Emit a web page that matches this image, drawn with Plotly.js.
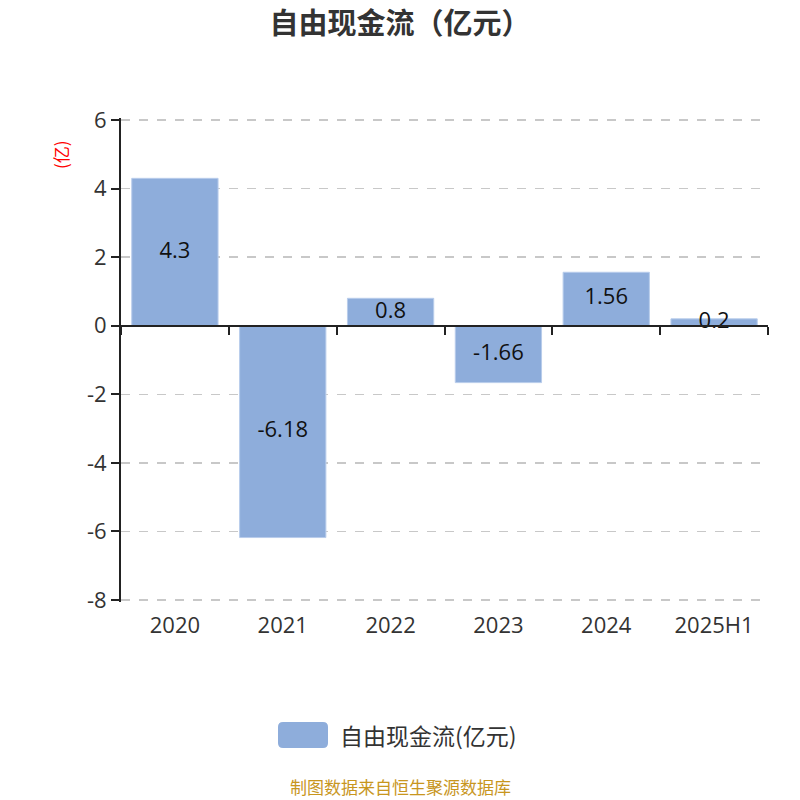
<!DOCTYPE html>
<html><head><meta charset="utf-8">
<script src="https://cdn.plot.ly/plotly-3.0.1.min.js"></script>
<style>html,body{margin:0;padding:0;background:#fff}#c{width:800px;height:800px}</style>
</head><body><div id="c"></div>
<script>
const categories = ['2020','2021','2022','2023','2024','2025H1'];
const values = [4.3, -6.18, 0.8, -1.66, 1.56, 0.2];
const labels = ['4.3','-6.18','0.8','-1.66','1.56','0.2'];
const seriesName = '自由现金流(亿元)';
const yTicks = [-8,-6,-4,-2,0,2,4,6];

const FONT = '"Open Sans", "Noto Sans CJK SC", sans-serif';
const CJK = '"Noto Sans CJK SC", "Open Sans", sans-serif';
const BAR = '#8eaddb';
const traces = [
  {type:'bar', x:categories, y:values, name:seriesName,
   marker:{color:BAR, line:{color:'#b8cceb', width:1}},
   textposition:'none', hoverinfo:'x+y', width:0.8, showlegend:false},
  {type:'scatter', mode:'text', x:categories, y:values.map(v=>v/2), text:labels,
   textfont:{size:22, color:'#111', family:FONT}, showlegend:false, hoverinfo:'skip', cliponaxis:false},
  {type:'scatter', mode:'markers', x:categories, y:values, xaxis:'x2', marker:{opacity:0},
   showlegend:false, hoverinfo:'skip'}
];
const Y0 = -8.06, Y1 = 6.06;
// paper coordinate helpers (plot area: x 121..768, y 118..602)
const px = v => (v-121)/647, py = v => (602-v)/484;
const x0=px(278), x1=px(328), y0=py(748), y1=py(722), rx=5/647, ry=5/484;
const swatch = `M ${x0+rx},${y0} L ${x1-rx},${y0} Q ${x1},${y0} ${x1},${y0+ry} L ${x1},${y1-ry} Q ${x1},${y1} ${x1-rx},${y1} L ${x0+rx},${y1} Q ${x0},${y1} ${x0},${y1-ry} L ${x0},${y0+ry} Q ${x0},${y0} ${x0+rx},${y0} Z`;
const layout = {
  width:800, height:800,
  margin:{l:121, r:32, t:118, b:198},
  paper_bgcolor:'#fff', plot_bgcolor:'#fff',
  font:{family:FONT, color:'#333'},
  title:{text:'<b>自由现金流（亿元）</b>', x:0.5, xanchor:'center', y:1-24/800, yanchor:'middle',
         font:{size:29, color:'#333', family:CJK}},
  showlegend:false,
  bargap:0.2,
  xaxis:{type:'category', range:[-0.5,5.5], showline:false, ticks:'', showgrid:false, zeroline:false,
         tickfont:{size:22, color:'#333', family:FONT}, ticklabelstandoff:8, fixedrange:true},
  xaxis2:{type:'category', range:[-0.5,5.5], overlaying:'x', anchor:'free', position:(0-Y0)/(Y1-Y0),
          side:'bottom', showline:true, linecolor:'#222', linewidth:2, ticks:'outside', tickson:'boundaries',
          ticklen:8, tickwidth:2, tickcolor:'#222', showticklabels:false, showgrid:false, zeroline:false},
  yaxis:{range:[Y0,Y1], tickvals:yTicks, ticktext:yTicks.map(String), showline:true, linecolor:'#222', linewidth:2,
         ticks:'outside', ticklen:8, tickwidth:2, tickcolor:'#222',
         showgrid:true, gridcolor:'#c8c8c8', griddash:'dash', gridwidth:1.5, zeroline:false,
         tickfont:{size:22, color:'#333', family:FONT}},
  shapes:[{type:'path', xref:'paper', yref:'paper', path:swatch, fillcolor:BAR, line:{width:0}}],
  annotations:[
    {text:'(亿)', xref:'paper', yref:'paper', x:px(60), xanchor:'center', y:py(155), yanchor:'middle',
     showarrow:false, textangle:-90, font:{size:17, color:'#ff0000', family:CJK}},
    {text:seriesName, xref:'paper', yref:'paper', x:px(338), xanchor:'left', y:py(735), yanchor:'middle',
     showarrow:false, font:{size:23, color:'#333', family:CJK}},
    {text:'制图数据来自恒生聚源数据库', xref:'paper', yref:'paper', x:px(400), xanchor:'center', y:py(786), yanchor:'middle',
     showarrow:false, font:{size:17, color:'#c8961e', family:CJK}}
  ]
};
Plotly.newPlot('c', traces, layout, {displayModeBar:false, staticPlot:true});
</script></body></html>
